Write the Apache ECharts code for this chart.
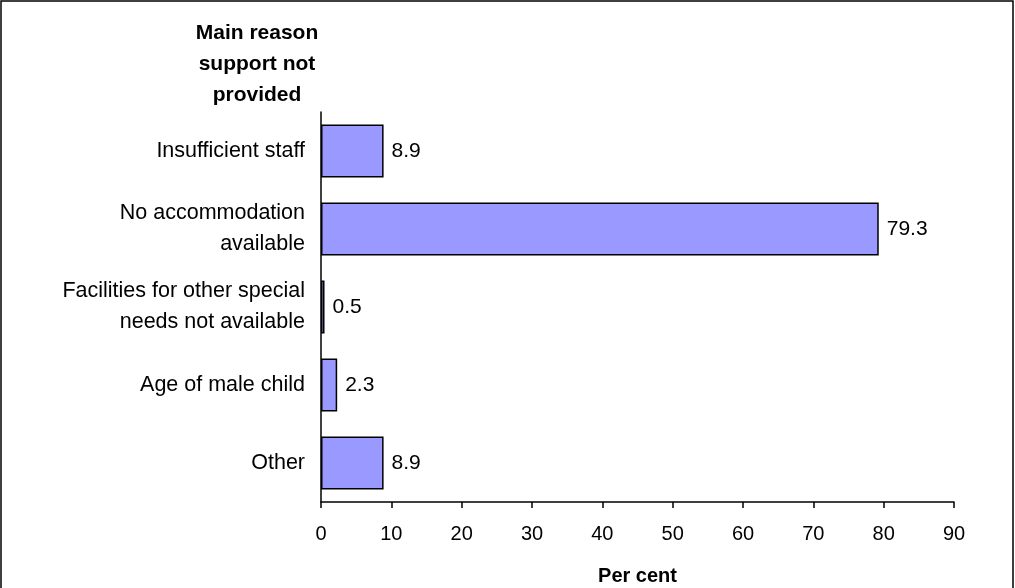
<!DOCTYPE html>
<html>
<head>
<meta charset="utf-8">
<script src="https://cdn.jsdelivr.net/npm/echarts@6/dist/echarts.min.js"></script>
<style>html,body{margin:0;padding:0;background:#fff;}#c{width:1015px;height:588px;}</style>
</head>
<body>
<div id="c"></div>
<script>
const categories = ["Insufficient staff", "No accommodation\navailable", "Facilities for other special\nneeds not available", "Age of male child", "Other"];
const values = [8.9, 79.3, 0.5, 2.3, 8.9];
const xTicks = [0, 10, 20, 30, 40, 50, 60, 70, 80, 90];

const chart = echarts.init(document.getElementById('c'));
const font = '"Liberation Sans", Arial, sans-serif';
chart.setOption({
  animation: false,
  backgroundColor: '#fff',
  graphic: [{
    type: 'rect', shape: {x: 1, y: 1, width: 1012, height: 620},
    style: {fill: 'none', stroke: '#000', lineWidth: 1.5}, silent: true
  }],
  title: {
    text: 'Main reason\nsupport not\nprovided',
    left: 252, top: 13, textAlign: 'center',
    textStyle: {fontFamily: font, fontSize: 21, fontWeight: 'bold', color: '#000', lineHeight: 31}
  },
  grid: {left: 321, right: 61, top: 112, bottom: 86, containLabel: false, outerBoundsMode: 'none'},
  xAxis: {
    type: 'value', min: xTicks[0], max: xTicks[xTicks.length - 1], interval: 10,
    name: 'Per cent', nameLocation: 'middle', nameGap: 64,
    nameTextStyle: {fontFamily: font, fontSize: 20, fontWeight: 'bold', color: '#000'},
    axisLine: {show: true, lineStyle: {color: '#000', width: 1.5}},
    axisTick: {show: true, length: 6, inside: false, lineStyle: {color: '#000', width: 1.5}},
    axisLabel: {fontFamily: font, fontSize: 20, color: '#000', margin: 22},
    splitLine: {show: false}
  },
  yAxis: {
    type: 'category', data: categories, inverse: true,
    axisLine: {show: true, lineStyle: {color: '#000', width: 1.5}},
    axisTick: {show: false},
    axisLabel: {fontFamily: font, fontSize: 21.5, color: '#000', margin: 16, lineHeight: 31, align: 'right'}
  },
  series: [{
    type: 'bar', data: values, barCategoryGap: '32%',
    itemStyle: {color: '#9999FF', borderColor: '#000', borderWidth: 1.5},
    label: {show: true, position: 'right', distance: 8, fontFamily: font, fontSize: 21, color: '#000',
      formatter: p => p.value.toFixed(1)}
  }]
});
</script>
</body>
</html>
